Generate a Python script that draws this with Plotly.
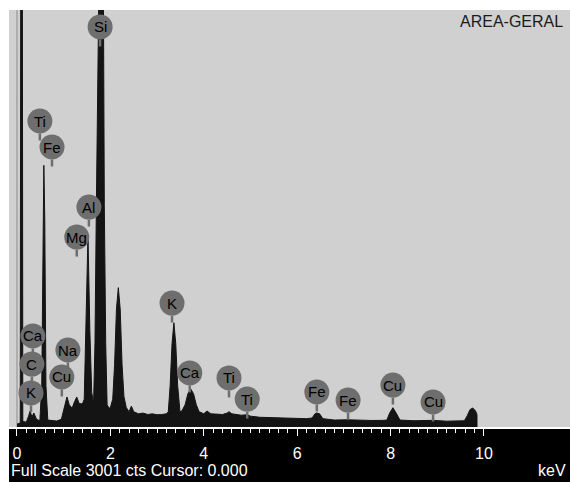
import plotly.graph_objects as go

# ---- spectrum outline (keV, counts) ----
energy_kev = [0.00, 0.05, 0.07, 0.085, 0.11, 0.125, 0.20, 0.25, 0.28, 0.32, 0.36, 0.42, 0.49,
              0.53, 0.555, 0.575, 0.595, 0.62, 0.66, 0.75, 0.85, 0.95, 1.00, 1.07, 1.12, 1.18,
              1.23, 1.28, 1.33, 1.40, 1.44, 1.48, 1.52, 1.56, 1.60, 1.64, 1.67, 1.70, 1.72,
              1.76, 1.80, 1.85, 1.87, 1.90, 1.93, 1.97, 2.00, 2.05, 2.09, 2.13, 2.17, 2.21,
              2.25, 2.29, 2.34, 2.40, 2.45, 2.50, 2.60, 2.70, 2.80, 2.90, 3.00, 3.10, 3.20,
              3.24, 3.28, 3.32, 3.36, 3.40, 3.44, 3.49, 3.53, 3.60, 3.66, 3.72, 3.78, 3.84,
              3.90, 4.00, 4.07, 4.15, 4.30, 4.40, 4.50, 4.54, 4.60, 4.80, 4.93, 5.00, 5.20,
              5.50, 5.80, 6.00, 6.20, 6.32, 6.38, 6.42, 6.48, 6.55, 6.80, 7.07, 7.30, 7.60,
              7.85, 7.92, 7.98, 8.05, 8.12, 8.20, 8.50, 8.90, 9.20, 9.50, 9.58, 9.64, 9.70,
              9.76, 9.82, 9.85, 9.851]
counts = [20, 30, 30, 5000, 5000, 40, 35, 80, 115, 72, 101, 55, 45,
          300, 1500, 1883, 1500, 300, 50, 45, 43, 55, 120, 216, 160, 135,
          180, 216, 170, 165, 200, 700, 1378, 700, 250, 170, 600, 1600, 3200,
          4500, 4500, 3200, 1600, 600, 160, 135, 140, 200, 450, 850, 1003, 850,
          450, 220, 140, 110, 150, 110, 95, 100, 90, 95, 88, 90, 95,
          110, 300, 600, 750, 600, 300, 110, 115, 160, 240, 274, 240, 160,
          110, 95, 115, 95, 90, 90, 100, 110, 95, 85, 88, 78, 70,
          68, 65, 62, 60, 65, 95, 101, 95, 60, 50, 52, 48, 47,
          48, 50, 100, 139, 100, 50, 45, 48, 42, 45, 45, 80, 125,
          137, 115, 90, 0]

# ---- element labels (name, energy in keV, label height in counts) ----
label_text = ["Si", "Ti", "Fe", "Al", "Mg", "Ca", "C", "K", "Na", "Cu",
              "K", "Ca", "Ti", "Ti", "Fe", "Fe", "Cu", "Cu"]
label_kev = [1.78, 0.49, 0.75, 1.54, 1.28, 0.34, 0.32, 0.30, 1.09, 0.96,
             3.32, 3.70, 4.54, 4.93, 6.42, 7.09, 8.05, 8.91]
label_counts = [2879, 2202, 2015, 1583, 1367, 655, 453, 245, 554, 360,
                892, 389, 353, 201, 252, 194, 302, 180]

tick_vals = [0, 2, 4, 6, 8, 10]
tick_text = ["0", "2", "4", "6", "8", "10"]
full_scale = 3001
x_range = [-0.171, 11.842]

W, H = 570, 482
M_L, M_R, M_T, M_B = 9, 0, 10, 55
plot_h = H - M_T - M_B
cpp = full_scale / plot_h  # counts per pixel
R = 12.5

FONT = "Arial, Liberation Sans, sans-serif"

fig = go.Figure()

fig.add_trace(go.Scatter(
    x=energy_kev, y=counts, mode="lines", fill="tozeroy",
    line=dict(color="#141414", width=1), fillcolor="#141414",
    hoverinfo="skip", showlegend=False))

# stems
sx, sy = [], []
for e, c in zip(label_kev, label_counts):
    sx += [e, e, None]
    sy += [c - R * cpp, c - (R + 7) * cpp, None]
fig.add_trace(go.Scatter(x=sx, y=sy, mode="lines",
                         line=dict(color="#6e6e6e", width=2.5),
                         hoverinfo="skip", showlegend=False))

fig.add_trace(go.Scatter(
    x=label_kev, y=label_counts, mode="markers",
    marker=dict(size=25, color="#6e6e6e", opacity=1, line=dict(width=0)),
    hoverinfo="skip", showlegend=False))

minor_vals = [round(i * 0.2, 1) for i in range(51) if i % 10 != 0]

label_annotations = [
    dict(text=t, x=e, y=c, xref="x", yref="y", showarrow=False,
         xanchor="center", yanchor="middle",
         font=dict(family=FONT, size=15, color="#000000"))
    for t, e, c in zip(label_text, label_kev, label_counts)
]

fig.update_layout(
    width=W, height=H, autosize=False,
    margin=dict(l=M_L, r=M_R, t=M_T, b=M_B, pad=0),
    paper_bgcolor="white", plot_bgcolor="#d0d0d0",
    xaxis=dict(range=x_range, showgrid=False, zeroline=False,
               showline=True, linecolor="white", linewidth=2,
               ticks="outside", tickcolor="white", ticklen=7, tickwidth=1,
               tickmode="array", tickvals=tick_vals, ticktext=tick_text,
               tickfont=dict(family=FONT, size=16, color="white"),
               ticklabelstandoff=4,
               minor=dict(tickmode="array", tickvals=minor_vals, ticks="outside",
                          ticklen=4, tickcolor="white", tickwidth=1, showgrid=False)),
    yaxis=dict(range=[0, full_scale], visible=False, showgrid=False, zeroline=False),
    shapes=[
        dict(type="rect", xref="paper", yref="paper", x0=0, x1=1,
             y0=-M_B / plot_h, y1=0, fillcolor="black", line=dict(width=0), layer="below"),
        dict(type="line", xref="x", yref="paper", x0=0, x1=0, y0=0, y1=1,
             line=dict(color="#8c8c8c", width=1), layer="below"),
    ],
    annotations=label_annotations + [
        dict(text="Full Scale 3001 cts Cursor: 0.000", xref="paper", yref="paper",
             x=0, y=0, xanchor="left", yanchor="middle", yshift=-43, showarrow=False,
             font=dict(family=FONT, size=16, color="white")),
        dict(text="keV", xref="paper", yref="paper",
             x=1, y=0, xanchor="right", yanchor="middle", yshift=-43, xshift=-2, showarrow=False,
             font=dict(family=FONT, size=16, color="white")),
        dict(text="AREA-GERAL", xref="paper", yref="paper",
             x=1, y=1, xanchor="right", yanchor="middle", yshift=-11, xshift=-5, showarrow=False,
             font=dict(family=FONT, size=16, color="#1a1a1a")),
    ],
)

fig.write_html("out.html")
